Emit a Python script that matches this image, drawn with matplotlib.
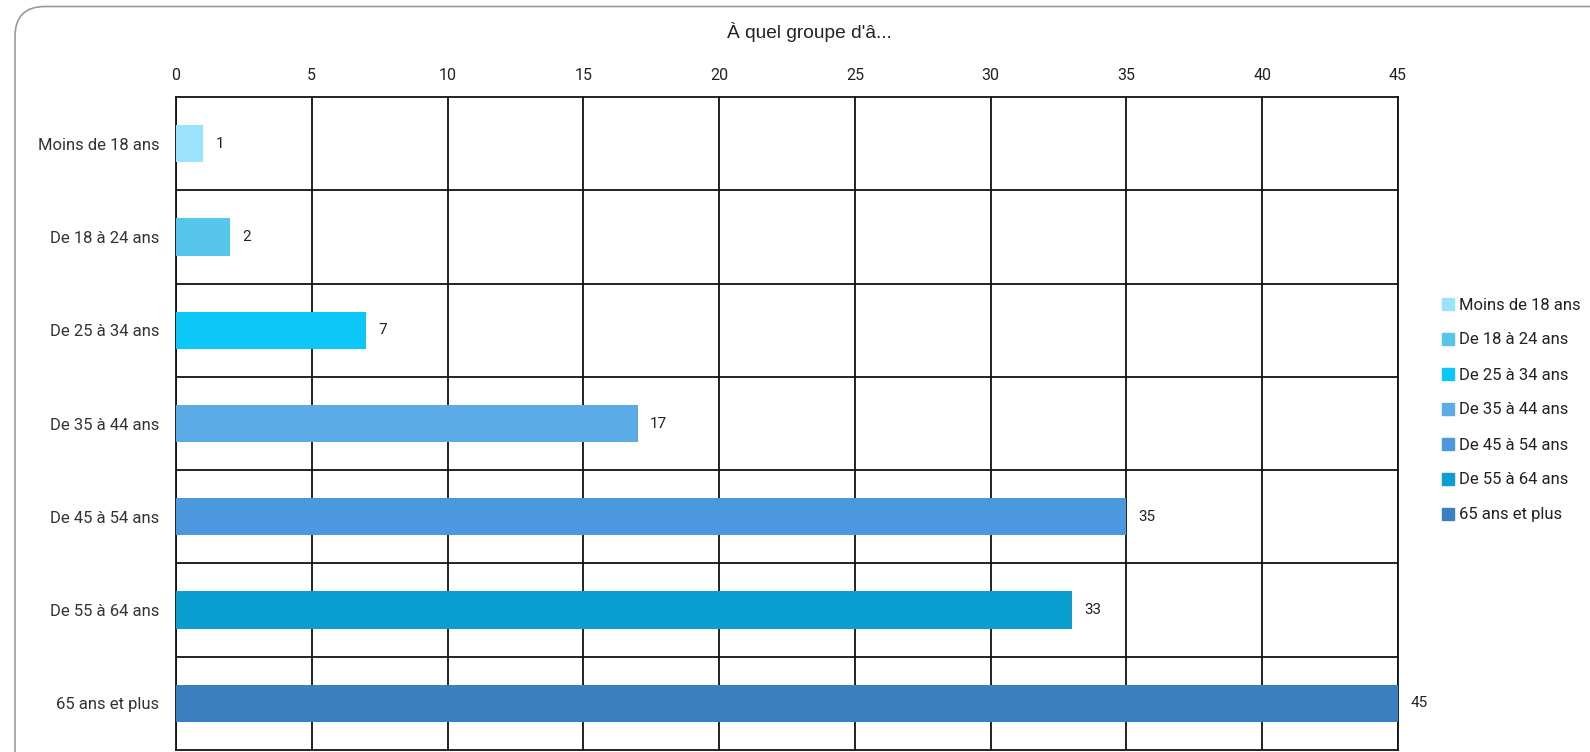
import matplotlib
matplotlib.use("Agg")
import matplotlib.pyplot as plt
from matplotlib.lines import Line2D
from matplotlib.patches import FancyBboxPatch

categories = ["Moins de 18 ans", "De 18 à 24 ans", "De 25 à 34 ans", "De 35 à 44 ans",
              "De 45 à 54 ans", "De 55 à 64 ans", "65 ans et plus"]
values = [1, 2, 7, 17, 35, 33, 45]
colors = ["#9BE3FB", "#56C6EC", "#0BC8F8", "#5AABE6", "#4C98DE", "#0A9ED1", "#3A80C1"]
x_ticks = [0, 5, 10, 15, 20, 25, 30, 35, 40, 45]

plt.rcParams['font.family'] = ['Roboto', 'DejaVu Sans']

fig = plt.figure(figsize=(15.9, 7.52), dpi=100)
W, H = 1590, 752

# rounded card border, running off right and bottom (inches, so corners stay round)
card = FancyBboxPatch((0.15, -1.0), 20, 7.52 - 0.065 + 1.0, transform=fig.dpi_scale_trans,
                      boxstyle="round,pad=0,rounding_size=0.3",
                      fc="none", ec="#9a9a9a", lw=1.2)
fig.patches.append(card)

ax = fig.add_axes([176 / W, 2 / H, (1398 - 176) / W, (750 - 97) / H])

n = len(categories)
ypos = list(range(n))
ax.barh(ypos, values, height=0.4, color=colors, zorder=3)
for y, v in zip(ypos, values):
    ax.text(v + 0.45, y, str(v), va="center", ha="left", fontsize=11, color="#222222")

ax.set_xlim(0, 45)
ax.set_ylim(n - 0.5, -0.5)
ax.set_xticks(x_ticks)
ax.xaxis.tick_top()
ax.tick_params(axis="x", length=0, pad=10, labelsize=11.5, labelcolor="#222222")
ax.set_yticks(ypos)
ax.set_yticklabels(categories)
ax.tick_params(axis="y", length=0, pad=12, labelsize=12, labelcolor="#333333")

# grid: vertical lines at ticks, horizontal lines between categories
for t in x_ticks:
    ax.axvline(t, color="#111111", lw=1.3, zorder=1)
for k in range(1, n):
    ax.axhline(k - 0.5, color="#111111", lw=1.3, zorder=1)
for s in ax.spines.values():
    s.set_color("#111111")
    s.set_linewidth(1.3)

fig.text(809 / W, 1 - 32 / H, "À quel groupe d'â...", ha="center", va="center",
         fontsize=13.8, family=["Liberation Sans", "DejaVu Sans"], color="#222222")

handles = [Line2D([], [], marker="s", ls="none", markersize=8, color=c) for c in colors]
fig.legend(handles, categories, loc="center left", bbox_to_anchor=(1441 / W, 1 - 410 / H),
           frameon=False, fontsize=12, handlelength=0.8, handletextpad=0.3,
           labelspacing=1.2, borderpad=0, borderaxespad=0, labelcolor="#222222")

fig.savefig("out.png", dpi=100)
